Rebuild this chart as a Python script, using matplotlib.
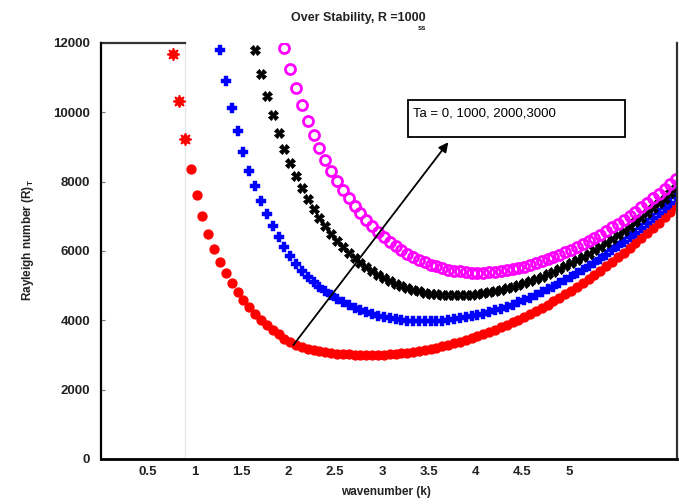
import matplotlib
matplotlib.use("Agg")
import matplotlib.pyplot as plt
from matplotlib.patches import Rectangle
from matplotlib.lines import Line2D

plt.rcParams['font.family'] = ['Liberation Sans', 'DejaVu Sans']
plt.rcParams['mathtext.fontset'] = 'custom'
plt.rcParams['mathtext.rm'] = 'Liberation Sans'
plt.rcParams['mathtext.bf'] = 'Liberation Sans:bold'

# wavenumber grid (k)
k = [0.77, 0.8325, 0.895, 0.9575, 1.02, 1.0825, 1.145, 1.2075, 1.27, 1.3325,
     1.395, 1.4575, 1.52, 1.5825, 1.645, 1.7075, 1.77, 1.8325, 1.895, 1.9575,
     2.02, 2.0825, 2.145, 2.2075, 2.27, 2.3325, 2.395, 2.4575, 2.52, 2.5825,
     2.645, 2.7075, 2.77, 2.8325, 2.895, 2.9575, 3.02, 3.0825, 3.145, 3.2075,
     3.27, 3.3325, 3.395, 3.4575, 3.52, 3.5825, 3.645, 3.7075, 3.77, 3.8325,
     3.895, 3.9575, 4.02, 4.0825, 4.145, 4.2075, 4.27, 4.3325, 4.395, 4.4575,
     4.52, 4.5825, 4.645, 4.7075, 4.77, 4.8325, 4.895, 4.9575, 5.02, 5.0825,
     5.145, 5.2075, 5.27, 5.3325, 5.395, 5.4575, 5.52, 5.5825, 5.645, 5.7075,
     5.77, 5.8325, 5.895, 5.9575, 6.02, 6.0825, 6.145]

# Ta = 0 (starts at k[0])
ra_ta0 = [11682, 10325, 9240, 8357, 7627, 7019, 6504, 6064, 5684, 5354,
          5064, 4807, 4579, 4374, 4189, 4021, 3868, 3726, 3596, 3470,
          3370, 3285, 3220, 3170, 3133, 3106, 3082, 3061, 3043, 3028,
          3017, 3008, 3003, 3000, 3001, 3005, 3011, 3021, 3034, 3050,
          3070, 3092, 3117, 3146, 3177, 3212, 3250, 3290, 3334, 3381,
          3431, 3484, 3541, 3600, 3662, 3728, 3796, 3868, 3943, 4021,
          4102, 4186, 4273, 4363, 4456, 4552, 4652, 4754, 4860, 4969,
          5080, 5195, 5313, 5434, 5558, 5686, 5816, 5949, 6086, 6225,
          6368, 6514, 6663, 6814, 6969, 7127, 7288]

# Ta = 1000 (starts at k[8])
ra_ta1000 = [11803, 10913, 10136, 9453, 8851, 8315, 7876, 7456, 7078, 6735,
             6415, 6116, 5854, 5621, 5420, 5245, 5093, 4960, 4838, 4725,
             4622, 4528, 4443, 4364, 4294, 4230, 4179, 4133, 4093, 4060,
             4032, 4009, 3993, 3981, 3973, 3972, 3974, 3981, 3993, 4008,
             4028, 4053, 4082, 4114, 4152, 4192, 4236, 4286, 4337, 4394,
             4454, 4518, 4585, 4656, 4730, 4808, 4890, 4975, 5064, 5156,
             5252, 5351, 5453, 5559, 5668, 5781, 5897, 6017, 6140, 6266,
             6396, 6528, 6664, 6804, 6947, 7092, 7241, 7394, 7549]

# Ta = 2000 (starts at k[14])
ra_ta2000 = [11797, 11111, 10483, 9922, 9412, 8952, 8529, 8157, 7810, 7500,
             7213, 6944, 6709, 6494, 6296, 6113, 5949, 5795, 5657, 5530,
             5417, 5311, 5217, 5134, 5058, 4990, 4932, 4881, 4836, 4802,
             4773, 4750, 4736, 4726, 4722, 4725, 4733, 4744, 4763, 4784,
             4810, 4844, 4878, 4920, 4965, 5015, 5068, 5126, 5187, 5253,
             5324, 5398, 5476, 5558, 5644, 5733, 5826, 5923, 6023, 6128,
             6236, 6348, 6464, 6583, 6706, 6831, 6960, 7094, 7231, 7370,
             7513, 7661, 7810]

# Ta = 3000 (starts at k[19])
ra_ta3000 = [11846, 11240, 10692, 10211, 9760, 9345, 8962, 8624, 8316, 8027,
             7759, 7520, 7295, 7087, 6893, 6715, 6549, 6397, 6263, 6138,
             6022, 5921, 5829, 5745, 5674, 5610, 5554, 5507, 5466, 5433,
             5409, 5392, 5379, 5377, 5376, 5384, 5402, 5419, 5446, 5476,
             5512, 5551, 5596, 5644, 5698, 5758, 5821, 5888, 5960, 6036,
             6115, 6199, 6287, 6378, 6475, 6575, 6679, 6788, 6900, 7016,
             7134, 7256, 7384, 7515, 7648, 7785, 7928, 8071]

x_ticks = [0.5, 1, 1.5, 2, 2.5, 3, 3.5, 4, 4.5, 5]
x_tick_labels = ['0.5', '1', '1.5', '2', '2.5', '3', '3.5', '4', '4.5', '5']
y_ticks = [0, 2000, 4000, 6000, 8000, 10000, 12000]
legend_text = "Ta = 0, 1000, 2000,3000"

fig = plt.figure(figsize=(6.79, 5.04), dpi=100)
ax = fig.add_axes([0.1490, 0.0893, 0.8480, 0.8254])

# faint vertical line
ax.axvline(0.895, color='#e6e6e6', lw=1.0, zorder=0)

# series
ax.plot(k[:3], ra_ta0[:3], ls='none', marker=(8, 1, 0), ms=9, color='#ff0000', mec='#ff0000')
ax.plot(k[3:], ra_ta0[3:], ls='none', marker='o', ms=6.4, color='#ff0000', mec='#ff0000')
ax.plot(k[8:], ra_ta1000, ls='none', marker='P', ms=6.6, color='#0000ff', mec='#0000ff', mew=0.3)
ax.plot(k[14:], ra_ta2000, ls='none', marker='X', ms=6.6, color='black', mec='black', mew=0.6)
ax.plot(k[19:], ra_ta3000, ls='none', marker='o', ms=7.2, mfc='none', mec='#ff00ff', mew=2.0)

ax.set_xlim(0, 6.152)
ax.set_ylim(0, 12000)

ax.set_xticks(x_ticks)
ax.set_xticklabels(x_tick_labels)
ax.set_xticks([0.5], minor=True)
ax.set_yticks(y_ticks)
ax.tick_params(axis='x', which='major', length=0, pad=5)
ax.tick_params(axis='x', which='minor', direction='in', length=3, width=0.8, color='#777777')
ax.tick_params(axis='y', which='major', direction='in', length=3, width=0.8, color='#777777', pad=8)
for lab in ax.get_xticklabels() + ax.get_yticklabels():
    lab.set_fontweight('bold')
    lab.set_fontsize(9.5)
    lab.set_color('#222222')

ax.spines['top'].set_visible(False)
ax.spines['left'].set_linewidth(1.6)
ax.spines['bottom'].set_linewidth(2.0)
ax.spines['right'].set_linewidth(1.6)
ax.spines['right'].set_color('#333333')
# partial top border
ax.add_line(Line2D([0, 0.895], [12000, 12000], color='#333333', lw=1.6, clip_on=False))

# legend-like box with text
ax.add_patch(Rectangle((0.5328, 0.774), 0.3769, 0.089, transform=ax.transAxes,
                       fill=False, ec='black', lw=1.3, zorder=5))
ax.text(0.5415, 0.8317, legend_text, transform=ax.transAxes, fontsize=9.5,
        va='center', ha='left', zorder=6)

# arrow
ax.annotate('', xy=(3.727, 9201), xytext=(2.035, 3222),
            arrowprops=dict(arrowstyle='-|>', lw=1.3, color='black', mutation_scale=14))

# titles and labels
fig.text(358/679, 1 - 18/504, "Over Stability, R =1000", ha='center', va='center',
         fontsize=9, fontweight='bold', color='#222222')
fig.text(422/679, 1 - 28/504, "ss", ha='center', va='center', fontsize=5.5,
         fontweight='bold', color='#222222')
fig.text(386/679, 1 - 492/504, "wavenumber (k)", ha='center', va='center',
         fontsize=8.5, fontweight='bold', color='#222222')
fig.text(28/679, 1 - 240/504, r"Rayleigh number (R)$_\mathbf{T}$", ha='center', va='center',
         rotation=90, fontsize=8.5, fontweight='bold', color='#222222')

fig.savefig('out.png', dpi=100)
